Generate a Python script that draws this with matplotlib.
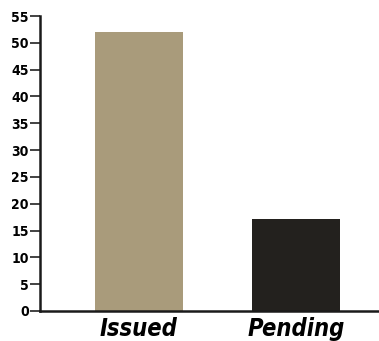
import matplotlib
matplotlib.use("Agg")
import matplotlib.pyplot as plt

categories = ["Issued", "Pending"]
values = [52, 17.2]
bar_colors = ["#a99b7b", "#23211e"]
y_ticks = list(range(0, 56, 5))

fig = plt.figure(figsize=(3.79, 3.41), dpi=100)
ax = fig.add_axes([40 / 379, 30 / 341, 339 / 379, 295 / 341])

x = list(range(len(categories)))
ax.bar(x, values, width=0.56, color=bar_colors, zorder=2)

ax.set_xlim(-0.63, 1.53)
ax.set_ylim(0, 55)
ax.set_yticks(y_ticks)
ax.set_yticklabels([str(t) for t in y_ticks], family="DejaVu Sans", fontstretch="condensed",
                   fontweight="bold", fontsize=10)
ax.set_xticks(x)
ax.set_xticklabels(categories, family="DejaVu Sans", fontstretch="condensed", fontweight="bold",
                   fontstyle="oblique", fontsize=17)

ax.tick_params(axis="y", length=7, width=1.2, pad=1, color="#222222")
ax.tick_params(axis="x", length=0, pad=4)

for side in ["top", "right"]:
    ax.spines[side].set_visible(False)
ax.spines["left"].set_linewidth(1.8)
ax.spines["bottom"].set_linewidth(1.8)
ax.spines["left"].set_color("#1a1a1a")
ax.spines["bottom"].set_color("#1a1a1a")

fig.savefig("out.png", dpi=100)
